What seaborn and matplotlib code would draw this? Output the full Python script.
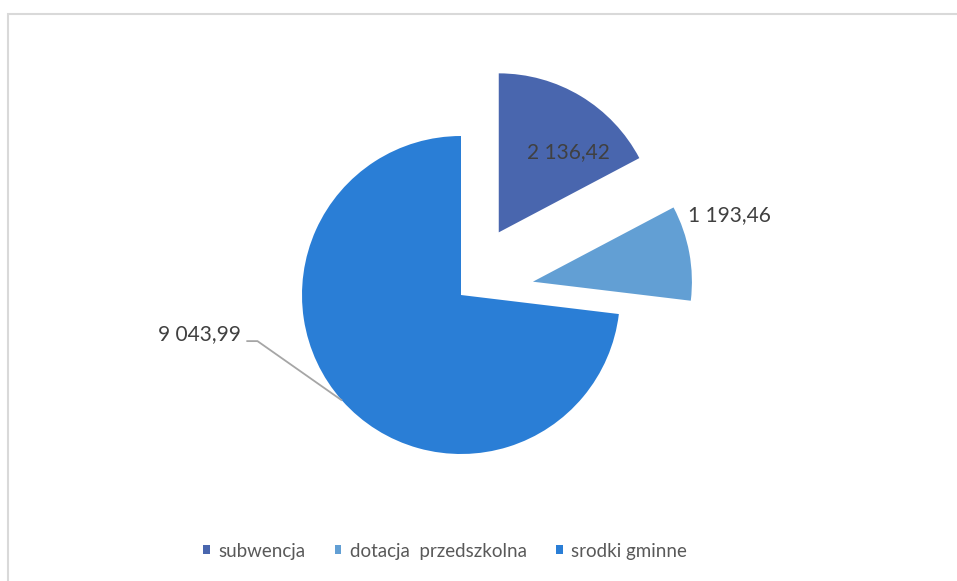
import numpy as np
import matplotlib
matplotlib.use("Agg")
import matplotlib.pyplot as plt
from matplotlib.patches import Rectangle
import seaborn as sns

# data
categories = ["subwencja", "dotacja  przedszkolna", "srodki gminne"]
values = [2136.42, 1193.46, 9043.99]
value_labels = ["2 136,42", "1 193,46", "9 043,99"]
colors = ["#4966AE", "#629FD4", "#2A7ED6"]
explode = [0.46, 0.46, 0.0]

sns.set_theme(style="white")
plt.rcParams["font.family"] = ["Lato", "DejaVu Sans"]

W, H = 957, 581
fig = plt.figure(figsize=(W / 100, H / 100), dpi=100)
ax = fig.add_axes([0, 0, 1, 1])

# pie centre in pixels and radius in pixels
cx, cy, rpx = 461, 295, 159

wedges, _ = ax.pie(values, explode=explode, colors=colors, startangle=90,
                   counterclock=False, radius=1, center=(0, 0),
                   wedgeprops=dict(linewidth=0))
ax.set_aspect("auto")
ax.set_xlim(-cx / rpx, (W - cx) / rpx)
ax.set_ylim(-(H - cy) / rpx, cy / rpx)
ax.axis("off")

txt_color = "#404040"
fs = 15

# label for subwencja (inside slice)
ax.text(0.673, 0.899, value_labels[0], ha="center", va="center",
        fontsize=fs, color=txt_color)
# label for dotacja (outside right)
ax.text(1.428, 0.503, value_labels[1], ha="left", va="center",
        fontsize=fs, color=txt_color)
# label for srodki gminne with leader line
ax.text(-1.384, -0.245, value_labels[2], ha="right", va="center",
        fontsize=fs, color=txt_color)
w = wedges[2]
mid = np.deg2rad((w.theta1 + w.theta2) / 2)
edge = (np.cos(mid) * w.r, np.sin(mid) * w.r)
ax.plot([-1.35, -1.28, edge[0]], [-0.29, -0.29, edge[1]],
        color="#A6A6A6", linewidth=1.3, solid_capstyle="butt")

# legend
leg = fig.legend(wedges, categories, loc="center",
                 bbox_to_anchor=(0.465, 1 - 551 / H), ncol=3, frameon=False,
                 fontsize=13.5, handlelength=0.36, handleheight=0.36,
                 handletextpad=0.45, columnspacing=1.55)
for t in leg.get_texts():
    t.set_color("#595959")

# outer frame
fig.patches.append(Rectangle((8 / W, -0.02), 960 / W, 1.02 - 14 / H,
                             transform=fig.transFigure, fill=False,
                             edgecolor="#D9D9D9", linewidth=1.5))

fig.savefig("out.png", dpi=100)
